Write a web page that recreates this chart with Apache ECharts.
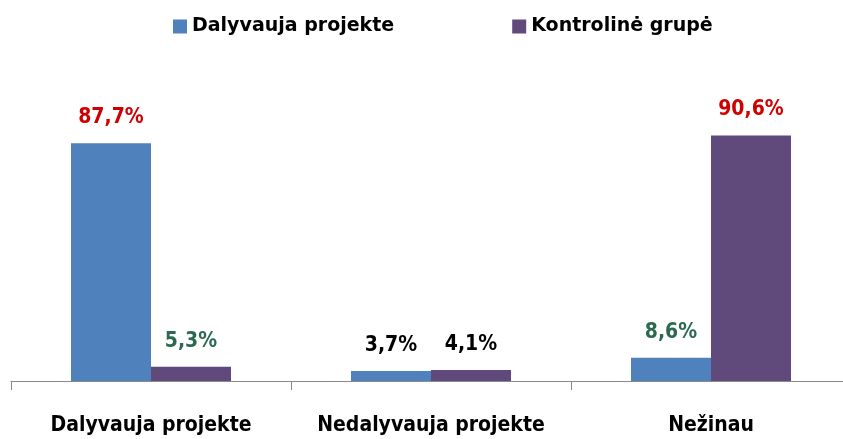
<!DOCTYPE html>
<html>
<head>
<meta charset="utf-8">
<script src="https://cdn.jsdelivr.net/npm/echarts@6/dist/echarts.min.js"></script>
<style>
  html, body { margin: 0; padding: 0; background: #fff; }
  #main { width: 843px; height: 439px; }
</style>
</head>
<body>
<div id="main"></div>
<script>
var categories = ['Dalyvauja projekte', 'Nedalyvauja projekte', 'Nežinau'];
var seriesNames = ['Dalyvauja projekte', 'Kontrolinė grupė'];
var participants = [87.7, 3.7, 8.6];
var control = [5.3, 4.1, 90.6];

var chart = echarts.init(document.getElementById('main'));
var font = 'DejaVu Sans Condensed';

// label colour picked like in the original: red for the big ones, green for small, black in the middle
function labelColor(catIdx, v) {
    if (v > 50) return '#d00000';
    if (catIdx === 1) return '#000000';
    return '#2b6a50';
}

function withLabels(values) {
    return values.map(function (v, i) {
        return { value: v, label: { color: labelColor(i, v) } };
    });
}

function pct(p) {
    return p.value.toFixed(1).replace('.', ',') + '%';
}

var option = {
    animation: false,
    legend: {
        top: 12,
        left: 168,
        itemWidth: 14,
        itemHeight: 14,
        itemGap: 118,
        icon: 'rect',
        textStyle: { fontFamily: 'DejaVu Sans', fontWeight: 'bold', fontSize: 19, color: '#000' },
        data: seriesNames
    },
    grid: { left: 11, width: 840, top: 110, bottom: 58, containLabel: false, outerBoundsMode: 'none' },
    xAxis: {
        type: 'category',
        data: categories,
        axisLine: { lineStyle: { color: '#8a8a8a', width: 1 } },
        axisTick: { show: true, interval: 0, length: 9, lineStyle: { color: '#8a8a8a' } },
        axisLabel: {
            interval: 0,
            hideOverlap: false,
            margin: 34,
            fontFamily: font,
            fontWeight: 'bold',
            fontSize: 21,
            color: '#000'
        }
    },
    yAxis: { type: 'value', min: 0, max: 100, show: false },
    series: [
        {
            name: seriesNames[0],
            type: 'bar',
            barWidth: 80,
            barGap: '0%',
            itemStyle: { color: '#4f81bd' },
            label: {
                show: true, position: 'top', distance: 15,
                fontFamily: font, fontWeight: 'bold', fontSize: 21,
                formatter: pct
            },
            data: withLabels(participants)
        },
        {
            name: seriesNames[1],
            type: 'bar',
            barWidth: 80,
            barGap: '0%',
            itemStyle: { color: '#604a7b' },
            label: {
                show: true, position: 'top', distance: 15,
                fontFamily: font, fontWeight: 'bold', fontSize: 21,
                formatter: pct
            },
            data: withLabels(control)
        }
    ]
};
chart.setOption(option);
</script>
</body>
</html>
